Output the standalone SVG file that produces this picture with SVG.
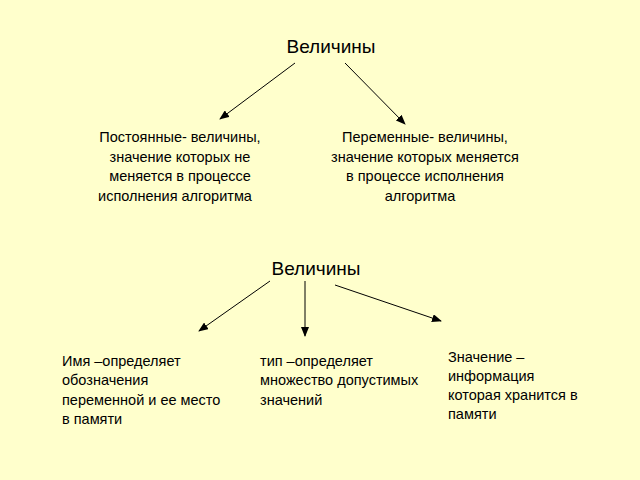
<svg xmlns="http://www.w3.org/2000/svg" width="640" height="480" viewBox="0 0 640 480">
<style>
text{font-family:"Liberation Sans",Arial,sans-serif;fill:#000}
.t{font-size:19px}
.s{font-size:14.5px}
.c{text-anchor:middle}
line{stroke:#000;stroke-width:1}
</style>
<defs><marker id="a" markerWidth="10" markerHeight="8" refX="9" refY="4" orient="auto" markerUnits="userSpaceOnUse"><path d="M0,0L10,4L0,8z" fill="#000"/></marker></defs>
<rect width="640" height="480" fill="#FFFFCC"/>
<g id="n1"><text class="t c" x="331" y="53">Величины</text></g>
<g id="n2"><text class="s c" x="180" y="142">Постоянные- величины,</text><text class="s c" x="180" y="162">значение которых не</text><text class="s c" x="180" y="181">меняется в процессе</text><text class="s c" x="175" y="201">исполнения алгоритма</text></g>
<g id="n3"><text class="s c" x="425" y="142">Переменные- величины,</text><text class="s c" x="425" y="162">значение которых меняется</text><text class="s c" x="425" y="181">в процессе исполнения</text><text class="s c" x="420" y="201">алгоритма</text></g>
<g id="n4"><text class="t c" x="316" y="275">Величины</text></g>
<g id="n5"><text class="s" x="62" y="366">Имя –определяет</text><text class="s" x="62" y="385">обозначения</text><text class="s" x="62" y="405">переменной и ее место</text><text class="s" x="62" y="424">в памяти</text></g>
<g id="n6"><text class="s" x="260" y="366">тип –определяет</text><text class="s" x="260" y="385">множество допустимых</text><text class="s" x="260" y="405">значений</text></g>
<g id="n7"><text class="s" x="448" y="362">Значение  –</text><text class="s" x="448" y="381">информация</text><text class="s" x="448" y="400">которая хранится в</text><text class="s" x="448" y="419">памяти</text></g>
<g id="connectors">
<line x1="295" y1="63" x2="220" y2="119" marker-end="url(#a)"/>
<line x1="345" y1="63" x2="405" y2="124" marker-end="url(#a)"/>
<line x1="270" y1="281" x2="199" y2="331" marker-end="url(#a)"/>
<line x1="305" y1="281" x2="305" y2="336" marker-end="url(#a)"/>
<line x1="335" y1="285" x2="441" y2="321" marker-end="url(#a)"/>
</g>
</svg>
